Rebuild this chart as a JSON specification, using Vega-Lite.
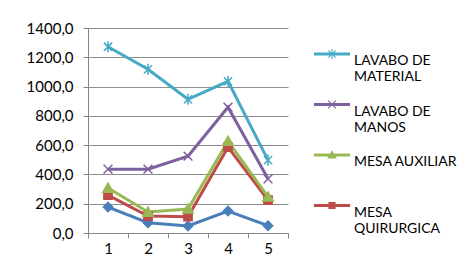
{
  "$schema": "https://vega.github.io/schema/vega-lite/v6.json",
  "width": 200,
  "height": 205,
  "autosize": "none",
  "padding": {"left": 88, "top": 28, "right": 177, "bottom": 39},
  "background": "white",
  "config": {"view": {"stroke": null}, "font": "Lato"},
  "data": {"values": [
    {"x": 1, "serie": "SERIE 1", "valor": 177},
    {"x": 2, "serie": "SERIE 1", "valor": 70},
    {"x": 3, "serie": "SERIE 1", "valor": 48},
    {"x": 4, "serie": "SERIE 1", "valor": 150},
    {"x": 5, "serie": "SERIE 1", "valor": 50},
    {"x": 1, "serie": "MESA QUIRURGICA", "valor": 259},
    {"x": 2, "serie": "MESA QUIRURGICA", "valor": 116},
    {"x": 3, "serie": "MESA QUIRURGICA", "valor": 111},
    {"x": 4, "serie": "MESA QUIRURGICA", "valor": 586},
    {"x": 5, "serie": "MESA QUIRURGICA", "valor": 225},
    {"x": 1, "serie": "MESA AUXILIAR", "valor": 307},
    {"x": 2, "serie": "MESA AUXILIAR", "valor": 143},
    {"x": 3, "serie": "MESA AUXILIAR", "valor": 164},
    {"x": 4, "serie": "MESA AUXILIAR", "valor": 627},
    {"x": 5, "serie": "MESA AUXILIAR", "valor": 247},
    {"x": 1, "serie": "LAVABO DE MANOS", "valor": 436},
    {"x": 2, "serie": "LAVABO DE MANOS", "valor": 436},
    {"x": 3, "serie": "LAVABO DE MANOS", "valor": 525},
    {"x": 4, "serie": "LAVABO DE MANOS", "valor": 859},
    {"x": 5, "serie": "LAVABO DE MANOS", "valor": 370},
    {"x": 1, "serie": "LAVABO DE MATERIAL", "valor": 1272},
    {"x": 2, "serie": "LAVABO DE MATERIAL", "valor": 1118},
    {"x": 3, "serie": "LAVABO DE MATERIAL", "valor": 913},
    {"x": 4, "serie": "LAVABO DE MATERIAL", "valor": 1036},
    {"x": 5, "serie": "LAVABO DE MATERIAL", "valor": 498}
  ]},
  "encoding": {
    "x": {"field": "x", "type": "ordinal", "scale": {"type": "band", "paddingInner": 0, "paddingOuter": 0},
      "axis": {"title": null, "labelAngle": 0, "tickBand": "extent", "grid": false, "domainColor": "#868686", "tickColor": "#868686", "tickSize": 5, "labelPadding": 3, "labelFont": "Lato", "labelFontSize": 15, "labelColor": "#000000"}},
    "y": {"field": "valor", "type": "quantitative", "scale": {"domain": [0, 1400], "nice": false},
      "axis": {"title": null, "values": [0, 200, 400, 600, 800, 1000, 1200, 1400], "labelExpr": "replace(format(datum.value, '.1f'), '.', ',')", "gridColor": "#8c8c8c", "domainColor": "#868686", "tickColor": "#868686", "tickSize": 5, "labelPadding": 10, "labelFont": "Lato", "labelFontSize": 15, "labelColor": "#000000"}}
  },
  "layer": [
    {
      "mark": {"type": "line", "strokeWidth": 3},
      "encoding": {
        "color": {"field": "serie", "type": "nominal", "legend": null,
          "scale": {"domain": ["SERIE 1", "MESA QUIRURGICA", "MESA AUXILIAR", "LAVABO DE MANOS", "LAVABO DE MATERIAL"],
            "range": ["#4a7ebb", "#be4b48", "#98b954", "#7d60a0", "#46aac5"]}}
      }
    },
    {
      "mark": {"type": "point", "filled": true, "size": 121, "strokeWidth": 1.5, "opacity": 1},
      "encoding": {
        "fill": {"field": "serie", "type": "nominal", "legend": null,
          "scale": {"domain": ["SERIE 1", "MESA QUIRURGICA", "MESA AUXILIAR", "LAVABO DE MANOS", "LAVABO DE MATERIAL"],
            "range": ["#4a7ebb", "#be4b48", "#98b954", "#7d60a0", "#46aac5"]}},
        "stroke": {"field": "serie", "type": "nominal", "legend": null,
          "scale": {"domain": ["SERIE 1", "MESA QUIRURGICA", "MESA AUXILIAR", "LAVABO DE MANOS", "LAVABO DE MATERIAL"],
            "range": ["#4a7ebb", "#be4b48", "#98b954", "#7d60a0", "#46aac5"]}},
        "shape": {"field": "serie", "type": "nominal", "legend": null,
          "scale": {"domain": ["SERIE 1", "MESA QUIRURGICA", "MESA AUXILIAR", "LAVABO DE MANOS", "LAVABO DE MATERIAL"],
            "range": ["M0,-0.85L0.85,0L0,0.85L-0.85,0Z", "M-0.75,-0.75L0.75,-0.75L0.75,0.75L-0.75,0.75Z", "M0,-0.9L0.95,0.75L-0.95,0.75Z", "M-0.8,-0.8L0.8,0.8M-0.8,0.8L0.8,-0.8", "M-0.75,-0.75L0.75,0.75M-0.75,0.75L0.75,-0.75M0,-1L0,1"]}}
      }
    },
    {
      "transform": [{"filter": "datum.serie != 'SERIE 1'"}],
      "mark": {"type": "point", "filled": true, "size": 0, "strokeWidth": 0, "opacity": 1},
      "encoding": {
        "color": {"field": "serie", "type": "nominal",
          "scale": {"domain": ["LAVABO DE MATERIAL", "LAVABO DE MANOS", "MESA AUXILIAR", "MESA QUIRURGICA"],
            "range": ["#46aac5", "#7d60a0", "#98b954", "#be4b48"]},
          "legend": {"title": null, "orient": "none", "legendX": 226, "legendY": 8, "symbolSize": 1296, "symbolStrokeWidth": 0, "symbolOpacity": 1, "labelFont": "Lato", "labelFontSize": 14, "labelColor": "#000000", "labelOffset": 4, "rowPadding": 2.5, "gridAlign": "all", "labelBaseline": "top",
            "labelExpr": "datum.label == 'LAVABO DE MATERIAL' ? ['LAVABO DE', 'MATERIAL'] : datum.label == 'LAVABO DE MANOS' ? ['LAVABO DE', 'MANOS'] : datum.label == 'MESA QUIRURGICA' ? ['MESA', 'QUIRURGICA'] : datum.label"}},
        "shape": {"field": "serie", "type": "nominal",
          "scale": {"domain": ["LAVABO DE MATERIAL", "LAVABO DE MANOS", "MESA AUXILIAR", "MESA QUIRURGICA"],
            "range": [
              "M-1,-0.083L1,-0.083L1,0.083L-1,0.083ZM-0.03,-0.28L0.03,-0.28L0.03,0.28L-0.03,0.28ZM-0.179,-0.221L0.221,0.179L0.179,0.221L-0.221,-0.179ZM-0.179,0.221L-0.221,0.179L0.179,-0.221L0.221,-0.179Z",
              "M-1,-0.083L1,-0.083L1,0.083L-1,0.083ZM-0.199,-0.241L0.241,0.199L0.199,0.241L-0.241,-0.199ZM-0.199,0.241L-0.241,0.199L0.199,-0.241L0.241,-0.199Z",
              "M-1,-0.083L1,-0.083L1,0.083L-1,0.083ZM0,-0.27L0.27,0.2L-0.27,0.2Z",
              "M-1,-0.083L1,-0.083L1,0.083L-1,0.083ZM-0.2,-0.2L0.2,-0.2L0.2,0.2L-0.2,0.2Z"
            ]}}
      }
    }
  ],
  "resolve": {"scale": {"color": "independent", "fill": "independent", "stroke": "independent", "shape": "independent"}}
}
